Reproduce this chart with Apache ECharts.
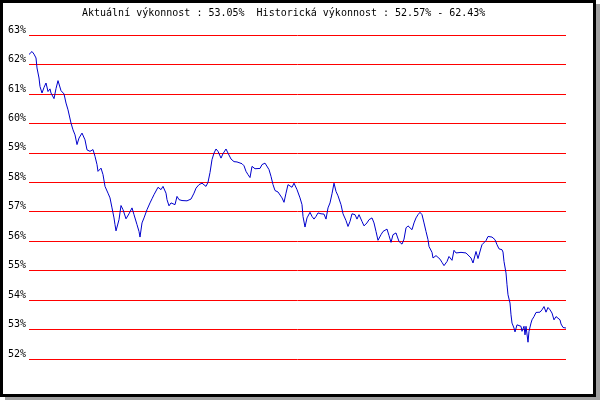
<!DOCTYPE html>
<html>
<head>
<meta charset="utf-8">
<script src="https://cdn.jsdelivr.net/npm/echarts@6/dist/echarts.min.js"></script>
<style>
html,body{margin:0;padding:0;background:#fff;}
#c{width:600px;height:400px;}
</style>
</head>
<body>
<div id="c"></div>
<script>
// Day offsets (calendar days from start) and performance values (%)
var day = [0,3,5,7,8,10,11,13,15,17,19,21,22,25,27,29,32,35,37,39,42,44,46,48,50,53,56,58,61,64,66,68,69,72,74,76,79,81,83,85,86,87,
90,92,94,97,100,103,105,108,110,111,113,115,117,118,121,123,125,127,129,132,134,137,138,140,142,144,146,148,150,153,155,158,160,162,165,167,170,173,175,177,179,181,
183,185,187,189,192,194,197,199,202,205,208,210,213,215,217,219,221,223,226,228,231,233,236,238,240,242,244,246,249,251,253,255,257,259,261,263,265,268,
271,273,274,276,278,281,283,285,287,289,292,295,297,299,301,303,305,307,309,312,314,317,319,321,323,326,328,330,333,335,338,340,343,345,347,349,352,354,356,358,360,
362,364,367,369,370,373,375,377,379,381,383,385,387,389,391,393,395,397,399,400,403,404,407,409,411,413,415,418,420,423,425,427,429,432,434,437,439,442,444,447,449,
452,453,455,457,459,461,463,466,468,470,473,474,475,477,478,479,481,482,483,485,486,488,490,492,493,495,496,497,499,500,502,503,505,507,509,511,513,515,517,519,521,523,525,527,529,531,532,534,537];

var perf = [62.34,62.44,62.35,62.22,61.88,61.54,61.25,61.03,61.22,61.37,61.08,61.17,61.03,60.84,61.18,61.45,61.11,61.00,60.69,60.46,60.01,59.78,59.61,59.28,59.50,59.67,59.44,59.10,59.05,59.11,58.88,58.60,58.37,58.48,58.26,57.86,57.63,57.47,57.13,56.79,56.56,56.35,
56.73,57.21,57.07,56.76,56.93,57.13,56.90,56.56,56.33,56.14,56.62,56.79,56.76,57.07,57.30,57.44,57.58,57.63,57.83,57.75,57.86,57.63,57.41,57.20,57.30,57.26,57.24,57.52,57.41,57.38,57.41,57.37,57.32,57.43,57.63,57.80,57.92,57.97,57.97,57.86,58.00,58.33,
58.77,58.99,59.13,59.05,58.82,58.97,59.13,58.99,58.79,58.70,58.69,58.71,58.63,58.56,58.37,58.26,58.16,58.54,58.46,58.46,58.47,58.60,58.65,58.63,58.43,58.20,57.92,57.72,57.67,57.69,57.47,57.32,57.63,57.92,57.97,57.83,57.97,57.75,
57.47,57.24,56.84,56.48,56.79,56.98,56.84,56.75,56.84,56.96,56.93,56.92,56.75,57.13,57.30,57.61,57.97,57.69,57.54,57.24,56.93,56.70,56.50,56.67,56.93,56.90,56.75,56.90,56.67,56.52,56.62,56.73,56.79,56.62,56.33,56.03,56.22,56.33,56.30,56.41,56.19,
55.96,56.22,56.28,56.22,55.99,55.90,56.07,56.45,56.52,56.50,56.39,56.62,56.79,56.90,56.98,56.90,56.62,56.33,56.05,55.82,55.62,55.43,55.51,55.48,55.39,55.28,55.17,55.31,55.48,55.35,55.69,55.60,55.65,55.62,55.65,55.60,55.54,55.43,55.26,55.65,55.41,
55.77,55.88,55.90,56.02,56.16,56.20,56.14,56.05,55.88,55.74,55.71,55.63,55.31,54.92,54.52,54.18,53.90,53.50,53.22,53.05,52.92,53.16,53.20,53.11,52.94,53.11,52.82,53.11,52.57,52.94,53.22,53.33,53.44,53.58,53.64,53.59,53.67,53.78,53.59,53.75,53.67,53.56,53.33,53.44,53.48,53.33,53.19,53.07,53.05];

var titleText = 'Aktuální výkonnost : 53.05%  Historická výkonnost : 52.57% - 62.43%';
var yMin = 52, yMax = 63, yStep = 1;
var dayMax = 537;

var seriesData = day.map(function (d, i) { return [d, perf[i]]; });
var mono = '"DejaVu Sans Mono", monospace';

var chart = echarts.init(document.getElementById('c'), null, {renderer: 'canvas'});
chart.setOption({
  animation: false,
  backgroundColor: '#fff',
  graphic: [
    {type: 'rect', z: -20, silent: true, shape: {x: 5, y: 4, width: 595, height: 396}, style: {fill: '#A0A0A0'}},
    {type: 'rect', z: -19, silent: true, shape: {x: 1.5, y: 1.5, width: 593, height: 394}, style: {fill: '#fff', stroke: '#000', lineWidth: 3}}
  ],
  title: {
    text: titleText,
    left: 82,
    top: 8,
    padding: 0,
    textStyle: {fontFamily: mono, fontSize: 10, fontWeight: 'normal', color: '#000'}
  },
  grid: {left: 29, right: 34, top: 35, bottom: 41, containLabel: false},
  xAxis: {
    type: 'value', min: 0, max: dayMax,
    axisLine: {show: false}, axisTick: {show: false}, axisLabel: {show: false}, splitLine: {show: false}
  },
  yAxis: {
    type: 'value', min: yMin, max: yMax, interval: yStep,
    axisLine: {show: false}, axisTick: {show: false},
    axisLabel: {
      formatter: '{value}%', margin: 3, verticalAlign: 'bottom',
      fontFamily: mono, fontSize: 10, color: '#000'
    },
    splitLine: {show: true, lineStyle: {color: '#FF0000', width: 1}}
  },
  series: [{
    type: 'line',
    data: seriesData,
    showSymbol: false,
    symbol: 'none',
    lineStyle: {color: '#0000CC', width: 1},
    z: 5
  }]
});
</script>
</body>
</html>
